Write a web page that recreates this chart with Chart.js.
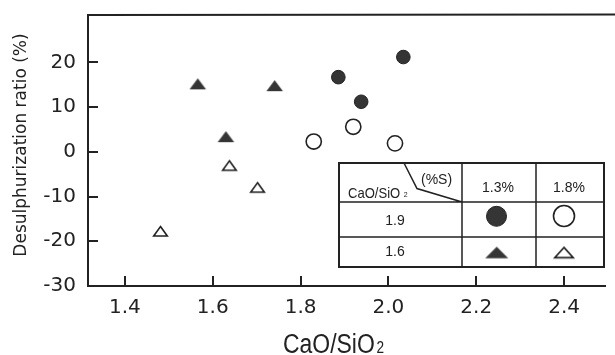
<!DOCTYPE html>
<html><head><meta charset="utf-8">
<script src="https://cdn.jsdelivr.net/npm/chart.js@4/dist/chart.umd.min.js"></script>
<style>html,body{margin:0;padding:0;background:#fff;}canvas{display:block;}</style>
</head><body>
<canvas id="c" width="615" height="355"></canvas>
<script>
// ---- data ----
const xTicks = [1.4, 1.6, 1.8, 2.0, 2.2, 2.4];
const yTicks = [-30, -20, -10, 0, 10, 20];
const xRange = [1.316, 2.495];
const yRange = [-30, 30.6];
const xTitleMain = 'CaO/SiO';
const xTitleSub = '2';
const yTitle = 'Desulphurization ratio (%)';
const sulphurLevels = ['1.3%', '1.8%'];
const basicityLevels = ['1.9', '1.6'];
const tableCornerLeft = 'CaO/SiO';
const tableCornerSub = '2';
const tableCornerRight = '(%S)';

const fullCircleX = [1.886, 1.938, 2.034];
const fullCircleY = [16.7, 11.2, 21.2];
const openCircleX = [1.830, 1.920, 2.015];
const openCircleY = [2.3, 5.6, 1.9];
const fullTriX = [1.566, 1.630, 1.741];
const fullTriY = [15.2, 3.4, 14.8];
const openTriX = [1.481, 1.638, 1.702];
const openTriY = [-17.7, -3.0, -7.9];

// ---- styles ----
const ink = '#222';
const darkFill = '#353535';
const pts = (xs, ys) => xs.map((x, i) => ({x: x, y: ys[i]}));

function triCanvas(w, h, fill, lw) {
  const pad = 2;
  const c = document.createElement('canvas');
  c.width = Math.round(w + pad * 2);
  c.height = Math.round(h + pad * 2);
  const g = c.getContext('2d');
  const cx = c.width / 2, cy = c.height / 2;
  const ins = lw ? lw / 2 : 0;
  g.beginPath();
  g.moveTo(cx, cy - h / 2 + ins * 1.6);
  g.lineTo(cx + w / 2 - ins * 1.8, cy + h / 2 - ins);
  g.lineTo(cx - w / 2 + ins * 1.8, cy + h / 2 - ins);
  g.closePath();
  if (fill) { g.fillStyle = fill; g.fill(); }
  if (lw) { g.lineWidth = lw; g.strokeStyle = ink; g.lineJoin = 'miter'; g.stroke(); }
  return c;
}
const fullTriImg = triCanvas(16.5, 11, darkFill, 0);
const openTriImg = triCanvas(16.5, 11.5, '#fff', 1.6);
const fullTriBig = triCanvas(23, 11.7, darkFill, 0);
const openTriBig = triCanvas(21.5, 12.3, '#fff', 1.6);

const decorPlugin = {
  id: 'decor',
  beforeDatasetsDraw(chart) {
    const ctx = chart.ctx, a = chart.chartArea;
    const xs = chart.scales.x, ys = chart.scales.y;
    ctx.save();
    ctx.strokeStyle = ink;
    ctx.lineWidth = 2;
    // top frame line
    ctx.beginPath();
    ctx.moveTo(a.left - 1, a.top);
    ctx.lineTo(chart.width, a.top - 0.5);
    ctx.stroke();
    // inward tick marks
    ctx.beginPath();
    xTicks.forEach(v => {
      const px = Math.round(xs.getPixelForValue(v));
      ctx.moveTo(px, a.bottom);
      ctx.lineTo(px, a.bottom - 10);
    });
    yTicks.forEach(v => {
      const py = Math.round(ys.getPixelForValue(v));
      ctx.moveTo(a.left, py);
      ctx.lineTo(a.left + 10, py);
    });
    ctx.stroke();
    // axis titles
    ctx.fillStyle = ink;
    ctx.textAlign = 'left';
    ctx.textBaseline = 'alphabetic';
    ctx.save();
    ctx.translate(283, 353);
    ctx.scale(0.85, 1);
    ctx.font = '27px "Liberation Sans", Arial, sans-serif';
    ctx.fillText(xTitleMain, 0, 0);
    const w = ctx.measureText(xTitleMain).width;
    ctx.font = '16px "Liberation Sans", Arial, sans-serif';
    ctx.fillText(xTitleSub, w + 2, 0);
    ctx.restore();
    ctx.save();
    ctx.translate(26, 145);
    ctx.rotate(-Math.PI / 2);
    ctx.textAlign = 'center';
    ctx.font = '17px "DejaVu Sans", sans-serif';
    ctx.fillText(yTitle, 0, 0);
    ctx.restore();
    ctx.restore();
  },
  afterDraw(chart) {
    const ctx = chart.ctx;
    const L = 339, C1 = 462, C2 = 536, R = 604;
    const T = 163, R1 = 202, R2 = 237, B = 267;
    ctx.save();
    ctx.fillStyle = '#fff';
    ctx.fillRect(L, T, R - L, B - T);
    ctx.strokeStyle = ink;
    ctx.lineWidth = 1.5;
    ctx.beginPath();
    ctx.moveTo(C1, T); ctx.lineTo(C1, B);
    ctx.moveTo(C2, T); ctx.lineTo(C2, B);
    ctx.moveTo(L, R1); ctx.lineTo(R, R1);
    ctx.moveTo(L, R2); ctx.lineTo(R, R2);
    // corner diagonal
    ctx.moveTo(404, T); ctx.lineTo(417, 188.5); ctx.lineTo(C1, R1);
    ctx.stroke();
    ctx.lineWidth = 2;
    ctx.strokeRect(L, T, R - L, B - T);
    // header texts
    ctx.fillStyle = ink;
    ctx.textBaseline = 'alphabetic';
    ctx.textAlign = 'left';
    ctx.save();
    ctx.translate(348, 197.5);
    ctx.scale(0.87, 1);
    ctx.font = '15px "Liberation Sans", Arial, sans-serif';
    ctx.fillText(tableCornerLeft, 0, 0);
    const w = ctx.measureText(tableCornerLeft).width;
    ctx.font = '8px "Liberation Sans", Arial, sans-serif';
    ctx.fillText(tableCornerSub, w + 4, -1);
    ctx.restore();
    ctx.font = '14px "Liberation Sans", Arial, sans-serif';
    ctx.fillText(tableCornerRight, 421, 184);
    ctx.textAlign = 'center';
    ctx.fillText(sulphurLevels[0], 498, 191.5);
    ctx.fillText(sulphurLevels[1], 569, 191.5);
    ctx.textBaseline = 'middle';
    ctx.fillText(basicityLevels[0], 395, 221);
    ctx.fillText(basicityLevels[1], 395, 252.5);
    // legend symbols
    ctx.beginPath();
    ctx.arc(496.5, 216.3, 10, 0, Math.PI * 2);
    ctx.fillStyle = darkFill; ctx.fill();
    ctx.lineWidth = 1; ctx.stroke();
    ctx.beginPath();
    ctx.arc(564, 216, 10.5, 0, Math.PI * 2);
    ctx.fillStyle = '#fff'; ctx.fill();
    ctx.lineWidth = 1.6; ctx.stroke();
    ctx.drawImage(fullTriBig, 496.7 - fullTriBig.width / 2, 252.5 - fullTriBig.height / 2);
    ctx.drawImage(openTriBig, 564 - openTriBig.width / 2, 252.3 - openTriBig.height / 2);
    ctx.restore();
  }
};

new Chart(document.getElementById('c'), {
  type: 'scatter',
  data: {
    datasets: [
      {label: '1.3% / 1.9', data: pts(fullCircleX, fullCircleY), pointStyle: 'circle', pointRadius: 6.8,
       backgroundColor: darkFill, borderColor: ink, borderWidth: 1},
      {label: '1.8% / 1.9', data: pts(openCircleX, openCircleY), pointStyle: 'circle', pointRadius: 7.6,
       backgroundColor: '#fff', borderColor: ink, borderWidth: 1.6},
      {label: '1.3% / 1.6', data: pts(fullTriX, fullTriY), pointStyle: fullTriImg},
      {label: '1.8% / 1.6', data: pts(openTriX, openTriY), pointStyle: openTriImg}
    ]
  },
  options: {
    responsive: false,
    animation: false,
    devicePixelRatio: 1,
    layout: {padding: {top: 15, right: 0, left: 0, bottom: 0}},
    plugins: {legend: {display: false}, tooltip: {enabled: false}},
    elements: {point: {hoverRadius: 7}},
    scales: {
      x: {
        type: 'linear', min: xRange[0], max: xRange[1],
        afterBuildTicks: s => { s.ticks = xTicks.map(v => ({value: v})); },
        afterFit: s => { s.height = 69; s.paddingLeft = 0; s.paddingRight = 0; },
        grid: {display: false, drawTicks: false},
        border: {display: true, color: ink, width: 2},
        ticks: {color: ink, padding: 10, font: {family: '"DejaVu Sans", sans-serif', size: 20},
                callback: v => v.toFixed(1), maxRotation: 0, autoSkip: false}
      },
      y: {
        type: 'linear', min: yRange[0], max: yRange[1],
        afterBuildTicks: s => { s.ticks = yTicks.map(v => ({value: v})); },
        afterFit: s => { s.width = 88; s.paddingTop = 0; s.paddingBottom = 0; },
        grid: {display: false, drawTicks: false},
        border: {display: true, color: ink, width: 2},
        ticks: {color: ink, padding: 12, font: {family: '"DejaVu Sans", sans-serif', size: 20},
                callback: v => String(v), autoSkip: false}
      }
    }
  },
  plugins: [decorPlugin]
});
</script>
</body></html>
